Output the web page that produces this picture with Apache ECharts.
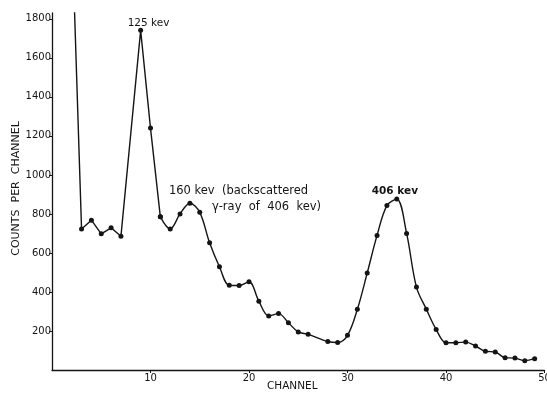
<!DOCTYPE html>
<html>
<head>
<meta charset="utf-8">
<script src="https://cdn.jsdelivr.net/npm/echarts@6/dist/echarts.min.js"></script>
<style>
  html, body { margin: 0; padding: 0; background: #fff; }
  #chart { width: 547px; height: 393px; }
</style>
</head>
<body>
<div id="chart"></div>
<script>
// Pulse-height spectrum: counts recorded in each analyser channel
const channels = [2, 3, 4, 5, 6, 7, 9, 10, 11, 12, 13, 14, 15, 16, 17, 18, 19, 20, 21, 22, 23, 24, 25, 26,
                  28, 29, 30, 31, 32, 33, 34, 35, 36, 37, 38, 39, 40, 41, 42, 43, 44, 45, 46, 47, 48, 49];
const counts   = [2290, 723, 768, 698, 729, 686, 1741, 1240, 785, 723, 800, 855, 808, 652, 529, 434, 433, 452, 353, 277, 289, 242, 195, 183,
                  146, 141, 178, 311, 497, 690, 843, 876, 700, 425, 312, 208, 140, 140, 143, 123, 96, 92, 63, 61, 48, 58];

const yTicks = [200, 400, 600, 800, 1000, 1200, 1400, 1600, 1800];
const xTicks = [10, 20, 30, 40, 50];

// Peak annotations
const peakNotes = [
  { ch: 9,  text: '125 kev' },
  { ch: 14, text: '160 kev  (backscattered' },
  { ch: 14, text: 'γ-ray  of  406  kev)' },
  { ch: 35, text: '406 kev' }
];

const points = channels.map((c, i) => [c, counts[i]]);
// the low-energy part is joined with straight segments, the rest is a smooth curve
const splitAt = channels.indexOf(11);
const straightPart = points.slice(0, splitAt + 1);
const smoothPart = points.slice(splitAt);

const ink = '#141414';
const font = '"DejaVu Sans", sans-serif';

const chart = echarts.init(document.getElementById('chart'), null, { renderer: 'canvas' });

const lineSeries = (data, smooth) => ({
  type: 'line',
  data: data,
  smooth: smooth,
  clip: true,
  symbol: 'circle',
  symbolSize: 5,
  itemStyle: { color: ink },
  lineStyle: { color: ink, width: 1.4 },
  emphasis: { disabled: true },
  animation: false
});

chart.setOption({
  backgroundColor: '#fff',
  animation: false,
  grid: { left: 52, right: 2.5, top: 13, bottom: 23, containLabel: false, outerBoundsMode: 'none' },
  xAxis: {
    type: 'value',
    min: 0, max: 50, interval: 10,
    name: 'CHANNEL',
    nameLocation: 'middle',
    nameGap: 11,
    nameMoveOverlap: false,
    nameTextStyle: { fontFamily: font, fontSize: 10.5, color: ink, padding: [0, 12, 0, 0] },
    axisLine: { show: true, lineStyle: { color: ink, width: 1.3 } },
    axisTick: { show: true, length: 3, inside: false, customValues: xTicks, lineStyle: { color: ink } },
    axisLabel: { customValues: xTicks, fontFamily: font, fontSize: 10, color: ink, margin: 3,
                 formatter: (v) => String(v) },
    splitLine: { show: false }
  },
  yAxis: {
    type: 'value',
    min: 0, max: 1830,
    name: 'COUNTS  PER  CHANNEL',
    nameLocation: 'middle',
    nameRotate: 90,
    nameGap: 30,
    nameMoveOverlap: false,
    nameTextStyle: { fontFamily: font, fontSize: 11, color: ink, padding: [0, 0, 0, 6] },
    axisLine: { show: true, lineStyle: { color: ink, width: 1.3 } },
    axisTick: { show: true, length: 3, customValues: yTicks, lineStyle: { color: ink } },
    axisLabel: { customValues: yTicks, fontFamily: font, fontSize: 10, color: ink, margin: 1,
                 formatter: (v) => String(v) },
    splitLine: { show: false }
  },
  series: [lineSeries(straightPart, false), lineSeries(smoothPart, 0.35)]
});

// place the peak labels relative to the plotted peaks
const at = (ch) => chart.convertToPixel({ gridIndex: 0 }, [ch, counts[channels.indexOf(ch)]]);
const p125 = at(peakNotes[0].ch);
const p160 = at(peakNotes[1].ch);
const p406 = at(peakNotes[3].ch);
const textStyle = (text, x, y, size, bold) => ({
  type: 'text', x: x, y: y, silent: true,
  style: { text: text, fill: ink, font: (bold ? 'bold ' : '') + size + 'px ' + font, textAlign: 'left', textVerticalAlign: 'middle' }
});
chart.setOption({
  graphic: [
    textStyle(peakNotes[0].text, p125[0] - 13, p125[1] - 7, 10.5, false),
    textStyle(peakNotes[1].text, p160[0] - 21, p160[1] - 12, 11.5, false),
    textStyle(peakNotes[2].text, p160[0] + 22, p160[1] + 4, 11.5, false),
    textStyle(peakNotes[3].text, p406[0] - 25, p406[1] - 8, 10.5, true)
  ]
});
</script>
</body>
</html>
